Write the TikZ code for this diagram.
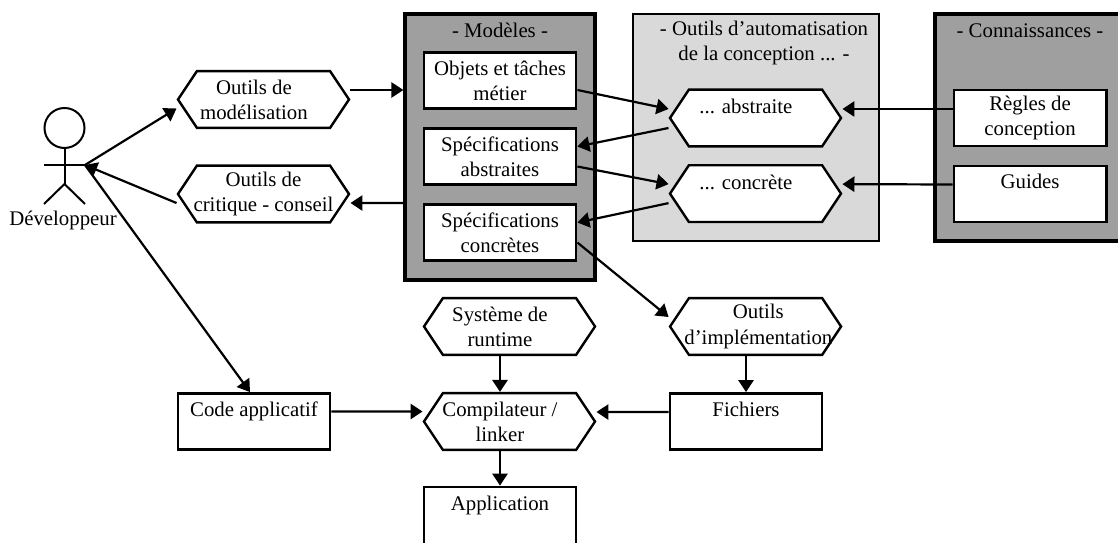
\documentclass[tikz,border=0pt]{standalone}
\usepackage{fontspec}
\setmainfont{Liberation Serif}
\usetikzlibrary{shapes,shapes.symbols,arrows,arrows.meta,calc}
\definecolor{grisfonce}{HTML}{9F9F9F}
\definecolor{grisclair}{HTML}{D9D9D9}
\tikzstyle{texte} = [
	font = \fontsize{14.8}{17.8}\selectfont,
	align = center,
	inner sep = 0pt
]
\tikzstyle{boite} = [
	texte,
	draw,
	fill = white,
	line width = 0.07cm,
	minimum width = 3.8cm,
	minimum height = 1.4cm
]
\tikzstyle{hexa} = [
	draw,
	signal,
	signal to = east and west,
	signal pointer angle = 112.6,
	fill = white,
	line width = 0.06cm,
	inner sep = 0pt,
	minimum width = 4.275cm,
	minimum height = 1.42cm,
	label distance = 0pt
]
\tikzstyle{cadre} = [
	draw,
	fill = grisfonce,
	line width = 0.08cm,
	minimum width = 4.75cm,
	inner sep = 0pt
]
\tikzstyle{fleche} = [
	-{Triangle[length=0.3cm,width=0.38cm]},
	line width = 0.055cm
]
\begin{document}
\begin{tikzpicture}[x=0.025cm, y=-0.025cm, node distance=1.9cm]
	\useasboundingbox (0,0) rectangle (1118,543);
	
	% cadres
	\node [cadre, minimum height=6.65cm] (cadremod) at (500,147) {};
	\node [cadre, fill=grisclair, line width=0.05cm, minimum width=6.15cm, minimum height=5.675cm] (cadreauto) at (756,127.5) {};
	\node [cadre, minimum height=5.675cm] (cadreconn) at (1030,127.5) {};
	
	% modeles
	\node [boite] (objets) at (500,80.5) {Objets et tâches\\métier};
	\node [boite, below of=objets] (specabs) {Spécifications\\abstraites};
	\node [boite, below of=specabs] (speccon) {Spécifications\\concrètes};
	\node [texte, above of=objets, node distance=1.25cm] (titremod) {- Modèles -};
	
	% outils d'automatisation
	\node [hexa, label={[texte, xshift=-0.24cm, yshift=-0.02cm]center:... abstraite\\~}] (hexabs) at (755.5,118) {};
	\node [hexa, below of=hexabs, node distance=1.89cm, label={[texte, xshift=-0.24cm, yshift=-0.02cm]center:... concrète\\~}] (hexcon) {};
	\node [texte] (titreauto) at (764,43) {- Outils d'automatisation\\de la conception ... -};
	
	% connaissances
	\node [boite, right of=hexabs, node distance=6.8625cm] (regles) {Règles de\\conception};
	\node [boite, below of=regles] (guides) {Guides\\~};
	\node [texte] (titreconn) at (1030,30.5) {- Connaissances -};
	
	% outils
	\node [hexa, label={[texte, xshift=-0.24cm]center:Outils de\\modélisation}] (hexmod) at (263.5,99.5) {};
	\node [hexa, below of=hexmod, node distance=2.3625cm, label={[texte]center:Outils de\\critique - conseil}] (hexcrit) {};
	\node [hexa, label={[texte, xshift=-0.24cm]center:Système de\\runtime}] (systeme) at (509.5,326.5) {};
	\node [hexa, below of=systeme, node distance=2.375cm, label={[texte, xshift=-0.24cm]center:Compilateur /\\linker}] (compil) {};
	\node [hexa, right of=systeme, node distance=6.15cm, label={[texte, xshift=0.07cm]center:Outils\\d'implémentation}] (implem) {};
	\node [boite] (fichiers) at (746,421.5) {Fichiers\\~};
	\node [boite] (code) at (254,421.5) {Code applicatif\\~};
	\node [boite, minimum height=1.45cm] (appli) at (500,516) {Application\\~};
	
	% developpeur
	\node [draw, circle, line width=0.05cm, minimum size=1cm, inner sep=0pt] (tete) at (64.5,128) {};
	\coordinate (epaule) at (85,165);
	\coordinate (epaule2) at (44,165);
	\coordinate (bassin) at (64.5,184);
	\coordinate (pied1) at (44,204);
	\coordinate (pied2) at (85,204);
	\node [texte] (dev) at (63,220) {Développeur};
	\draw [line width=0.05cm] (tete.south) -- (bassin);
	\draw [line width=0.05cm] (epaule2) -- (epaule);
	\draw [line width=0.05cm] (pied1) -- (bassin) -- (pied2);
	
	\draw [fleche] (epaule) -- ($(hexmod.west)+(0,9)$);
	\draw [fleche] ($(hexcrit.west)+(0,9)$) -- (epaule);
	\draw [fleche] (epaule) -- ($(code.north)+(-4,0)$);
	\draw [fleche] ($(hexmod.east)+(0,-9.5)$) -- (cadremod.west |- 0,90);
	\draw [fleche] (cadremod.west |- 0,203) -- ($(hexcrit.east)+(0,9)$);
	\draw [fleche] ($(objets.east)+(0,9.5)$) -- ($(hexabs.west)+(0,-9)$);
	\draw [fleche] ($(hexabs.west)+(0,10)$) -- ($(specabs.east)+(0,-10)$);
	\draw [fleche] ($(specabs.east)+(0,10)$) -- ($(hexcon.west)+(0,-9.5)$);
	\draw [fleche] ($(hexcon.west)+(0,9.5)$) -- ($(speccon.east)+(0,-10)$);
	\draw [fleche] ($(speccon.east)+(0,10)$) -- ($(implem.west)+(0,-9.5)$);
	\draw [fleche] ($(regles.west)+(0,-9)$) -- ($(hexabs.east)+(0,-9)$);
	\draw [fleche] ($(guides.west)+(0,-9.5)$) -- ($(hexcon.east)+(0,-9.5)$);
	\draw [fleche] (systeme.south -| appli.north) -- (compil.north -| appli.north);
	\draw [fleche] (compil.south -| appli.north) -- (appli.north);
	\draw [fleche] (implem.south -| fichiers.north) -- (fichiers.north);
	\draw [fleche] ($(fichiers.west)+(0,-9.5)$) -- ($(compil.east)+(0,-9.5)$);
	\draw [fleche] ($(code.east)+(0,-10)$) -- ($(compil.west)+(0,-10)$);
	
\end{tikzpicture}
\end{document}
